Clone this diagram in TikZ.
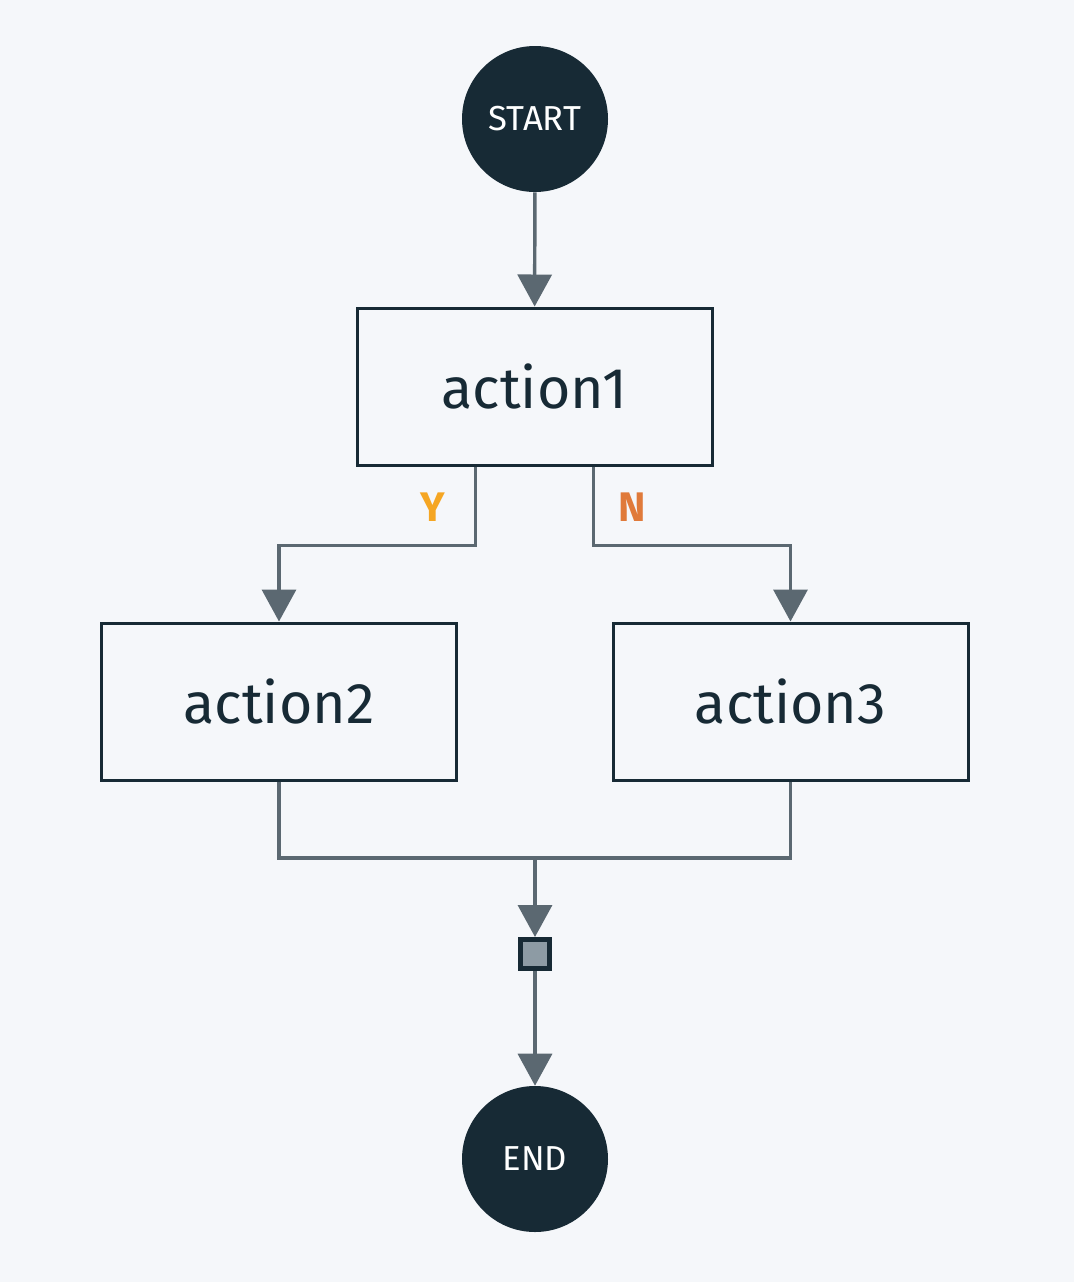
\documentclass[tikz,border=0pt]{standalone}
\usepackage{fontspec}
\setmainfont{Fira Sans}
\usetikzlibrary{arrows.meta,positioning}
\definecolor{bgcol}{HTML}{F5F7FA}
\definecolor{inkdark}{HTML}{172A35}
\definecolor{linegray}{HTML}{5B6871}
\definecolor{knotgray}{HTML}{8D9BA4}
\definecolor{yescol}{HTML}{F5A623}
\definecolor{nocol}{HTML}{E07A3A}
\tikzset{font={\fontsize{26pt}{30pt}\selectfont}}

\begin{document}
\begin{tikzpicture}[x=0.75pt,y=-0.75pt,
stepbox/.style={draw=inkdark,line width=2.25pt,fill=bgcol,minimum width=266.25pt,minimum height=117.75pt,inner sep=0pt,text=inkdark,font={\fontsize{43pt}{50pt}\selectfont}},
terminal/.style={circle,fill=inkdark,minimum size=109.5pt,inner sep=0pt,text=white,font={\fontsize{26pt}{30pt}\selectfont}},
joinbox/.style={draw=inkdark,line width=3.75pt,fill=knotgray,minimum size=21.75pt,inner sep=0pt},
link/.style={draw=linegray,line width=2.6pt},
flow/.style={link,-{Triangle[width=25.5pt,length=24pt]}},
branch/.style={font={\bfseries\fontsize{31pt}{36pt}\selectfont}}
]
\fill[bgcol] (0,0) rectangle (1074,1282);
\useasboundingbox (0,0) rectangle (1074,1282);

%nodes
\node[terminal] (start) at (535,119) {START};
\node[stepbox] (act1) at (534.5,386.5) {action1};
\node[stepbox] (act2) at (279,701.5) {action2};
\node[stepbox] (act3) at (790.5,701.5) {action3};
\node[joinbox] (join) at (535,954) {};
\node[terminal] (end) at (535,1159) {END};

\coordinate (yout) at ([xshift=-44.25pt]act1.south);
\coordinate (nout) at ([xshift=44.25pt]act1.south);
\coordinate (merge) at (535,858);

%branch labels
\node[branch,text=yescol] (ylab) at (433,507) {Y};
\node[branch,text=nocol] (nlab) at (632,507) {N};

%connectors
\draw[flow] (start) -- (act1);
\draw[flow] (yout) -- ++(0,79) -| (act2.north);
\draw[flow] (nout) -- ++(0,79) -| (act3.north);
\draw[link] (act2.south) |- (merge) -| (act3.south);
\draw[flow] (merge) -- (join);
\draw[flow] (join) -- (end);

\end{tikzpicture}
\end{document}
